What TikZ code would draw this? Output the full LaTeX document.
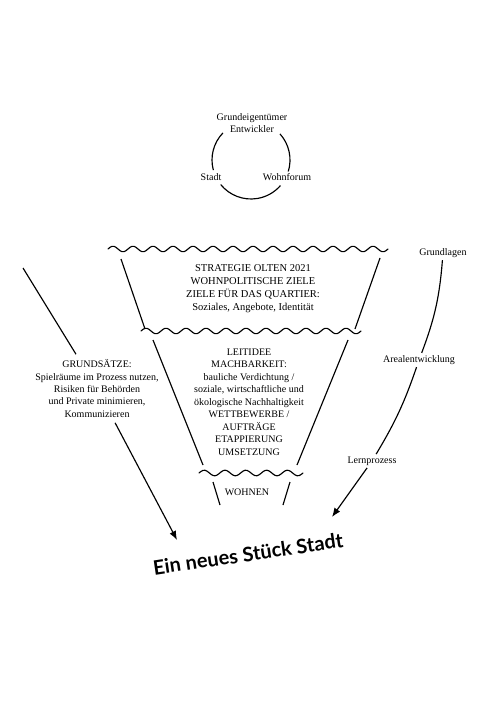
\documentclass[tikz,border=0pt]{standalone}
\usepackage{fontspec}
\setmainfont{Liberation Serif}
\newfontfamily\titlefont{Lato}
\usetikzlibrary{arrows.meta,positioning}

\begin{document}
\begin{tikzpicture}[x=1pt, y=1pt, line width=1.15pt,
  lbl/.style={align=center, font=\fontsize{10}{12.3}\selectfont, inner sep=2pt},
  blk/.style={align=center, font=\fontsize{10.5}{13}\selectfont, inner sep=2pt},
  wave/.style={line join=round, line cap=round},
  arr/.style={-{Latex[length=9pt, width=7pt]}}]
\useasboundingbox (0,0) rectangle (503,-711);

% Kreislauf
\node[lbl] (owner) at (252,-123) {Grundeigentümer\\Entwickler};
\node[lbl] (city) at (211,-177) {Stadt};
\node[lbl] (forum) at (287,-177) {Wohnforum};
\coordinate (cyc) at (251,-160);
\draw ([shift={(136:39)}]cyc) arc[start angle=136, end angle=195, radius=39pt];
\draw ([shift={(219:39)}]cyc) arc[start angle=219, end angle=319, radius=39pt];
\draw ([shift={(42:39)}]cyc) arc[start angle=42, end angle=-17, radius=39pt];

% Trichter
\draw[wave, shift={(108,-249)}] plot[domain=0:280, samples=141] (\x, {2.8*sin(\x*18)});
\draw (121,-259) -- (145,-329);
\draw (380,-258) -- (355,-329);
\draw[wave, shift={(141,-331)}] plot[domain=0:220, samples=111] (\x, {2.8*sin(\x*18)});
\draw (153,-340) -- (203,-465);
\draw (348,-340) -- (297,-465);
\draw[wave, shift={(199,-473)}] plot[domain=0:104, samples=53] (\x, {2.8*sin(\x*17.3077)});
\draw (213,-482) -- (220,-505);
\draw (290,-482) -- (283,-505);

\node[blk] (strategy) at (253,-289) {STRATEGIE OLTEN 2021\\WOHNPOLITISCHE ZIELE\\ZIELE FÜR DAS QUARTIER:\\Soziales, Angebote, Identität};
\node[blk, font=\fontsize{10}{12.5}\selectfont] (idea) at (249,-402) {LEITIDEE\\MACHBARKEIT:\\bauliche Verdichtung /\\soziale, wirtschaftliche und\\ökologische Nachhaltigkeit\\WETTBEWERBE /\\AUFTRÄGE\\ETAPPIERUNG\\UMSETZUNG};
\node[blk, font=\fontsize{10}{12.5}\selectfont] (living) at (247,-492) {WOHNEN};

% links
\node[lbl, inner sep=5pt] (rules) at (97,-388.5) {GRUNDSÄTZE:\\Spielräume im Prozess nutzen,\\Risiken für Behörden\\und Private minimieren,\\Kommunizieren};
\coordinate (lstart) at (23,-268);
\coordinate (ltip) at (177,-540);
\draw (lstart) -- (rules);
\draw[arr] (rules) -- (ltip);

% rechts
\node[lbl] (basics) at (443,-253) {Grundlagen};
\node[lbl] (areal) at (419,-360) {Arealentwicklung};
\node[lbl] (learn) at (372,-461) {Lernprozess};
\coordinate (rtip) at (332,-517);
\draw (basics) to[bend left=8] (areal);
\draw (areal) to[bend left=6] (learn);
\draw[arr] (learn) -- (rtip);

\node[font=\titlefont\bfseries\fontsize{20}{24}\selectfont, rotate=8.5] (title) at (248,-554) {Ein neues Stück Stadt};
\end{tikzpicture}
\end{document}
